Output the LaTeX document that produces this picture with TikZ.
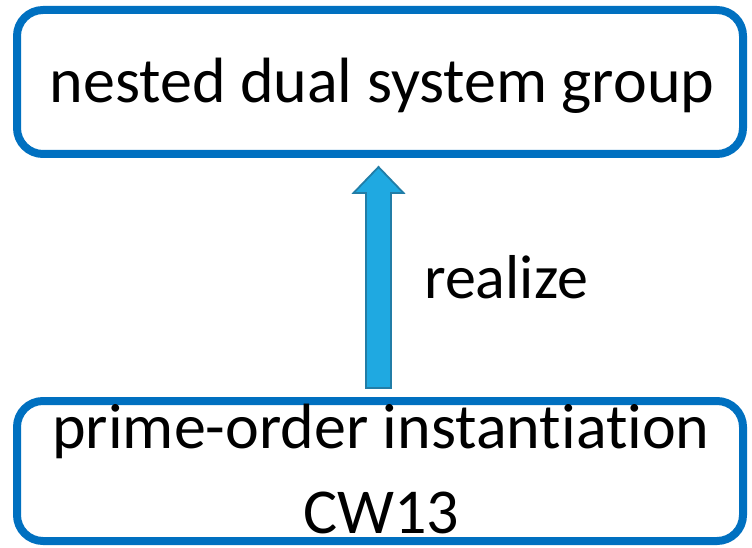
\documentclass[tikz,border=0pt]{standalone}
\usepackage{fontspec}
\setmainfont[Ligatures=NoCommon]{Carlito}
\usetikzlibrary{calc}
\definecolor{boxblue}{RGB}{0,112,192}
\definecolor{arrowfill}{RGB}{31,169,225}
\definecolor{arrowline}{RGB}{33,125,167}
\tikzset{
  panel/.style={draw=boxblue, line width=8pt, rounded corners=26pt, fill=white,
    minimum width=726pt, inner sep=0pt},
  caption/.style={font=\fontsize{64}{85}\selectfont, inner sep=0pt},
  blockarrow/.style={fill=arrowfill, draw=arrowline, line width=1.8pt, line join=miter}
}
\begin{document}
\begin{tikzpicture}[x=1pt,y=1pt]
  \useasboundingbox (0,0) rectangle (752,547);
  % the two boxes
  \node[panel, minimum height=144pt] (upper) at (380,465) {};
  \node[panel, minimum height=140pt] (lower) at (380,76) {};
  % their texts
  \node[caption, anchor=base] (uppertext) at (382,444) {nested dual system group};
  \node[caption, anchor=base, align=center] (lowertext) at (381,14) {prime-order instantiation\\CW13};
  % the block arrow from the lower box up to the upper one
  \coordinate (tail) at ($(lower.north)+(-1.5,9)$);
  \coordinate (tip) at ($(upper.south)+(-1.5,-9)$);
  \draw[blockarrow]
    ($(tail)+(-12.5,0)$) -- ($(tip)+(-12.5,-26)$) -- ($(tip)+(-25,-26)$) -- (tip)
    -- ($(tip)+(25,-26)$) -- ($(tip)+(12.5,-26)$) -- ($(tail)+(12.5,0)$) -- cycle;
  \node[caption, font=\fontsize{62}{85}\selectfont, anchor=base west] (label) at (424,249) {realize};
\end{tikzpicture}
\end{document}
